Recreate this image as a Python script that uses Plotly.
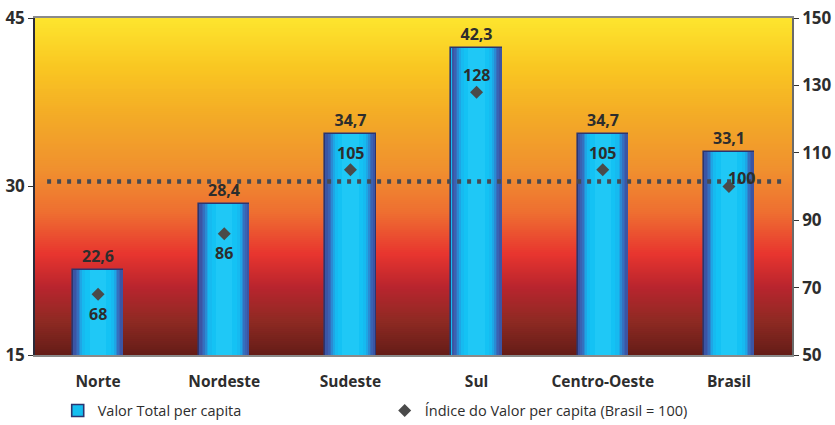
import plotly.graph_objects as go

# ---- data ----
regioes = ["Norte", "Nordeste", "Sudeste", "Sul", "Centro-Oeste", "Brasil"]
valor_per_capita = [22.6, 28.4, 34.7, 42.3, 34.7, 33.1]
indice = [68, 86, 105, 128, 105, 100]
linha_ref = 101.5
left_ticks = [15, 30, 45]
right_ticks = [50, 70, 90, 110, 130, 150]

TXT = "#2d2d2d"
FONT = "Open Sans"

fig = go.Figure()

# outer bar (legend entry) - cyan with navy outline
fig.add_trace(go.Bar(
    x=regioes, y=valor_per_capita, width=0.40,
    marker=dict(color="#14BEF0", line=dict(color="#2B3570", width=1.6)),
    name="Valor Total per capita", showlegend=True, hoverinfo="skip",
))

# gradient layers (edge -> center)
layers = [
    (0.397, "#3B55A4"),
    (0.355, "#3A62B2"),
    (0.33, "#3470BF"),
    (0.305, "#2A8BD3"),
    (0.28, "#1EA6E5"),
    (0.25, "#16BAF0"),
    (0.20, "#14C2F4"),
    (0.13, "#1FC8F6"),
]
for i, (w, c) in enumerate(layers):
    last = i == len(layers) - 1
    fig.add_trace(go.Bar(
        x=regioes, y=valor_per_capita, width=w,
        marker=dict(color=c, line=dict(width=0)),
        showlegend=False, hoverinfo="skip",
        text=[f"{v:.1f}".replace(".", ",") for v in valor_per_capita] if last else None,
        textposition="outside" if last else None,
        constraintext="none",
        textfont=dict(family=FONT, size=16, color=TXT, weight="bold"),
        cliponaxis=False,
    ))

# index markers
fig.add_trace(go.Scatter(
    x=regioes, y=indice, yaxis="y2", mode="markers",
    marker=dict(symbol="diamond", size=10, color="#4A4A4A"),
    name="Índice do Valor per capita (Brasil = 100)", cliponaxis=False,
))

# index labels (offsets relative to each diamond)
label_dx = [0, 0, 0, 0, 0, 13]
label_dy = [-20, -19, 17, 17, 17, 9]
annotations = []
for reg, v, dx, dy in zip(regioes, indice, label_dx, label_dy):
    annotations.append(dict(x=reg, y=v, xref="x", yref="y2", text=str(v), showarrow=False,
                            xshift=dx, yshift=dy,
                            font=dict(family=FONT, size=16, color=TXT, weight="bold")))

# background gradient via bands
stops = [
    (0.00, "#FDE52E"), (0.15, "#F9C622"), (0.30, "#F3A927"), (0.45, "#F0902F"),
    (0.58, "#EE6E31"), (0.70, "#E8352F"), (0.80, "#B8252E"), (0.90, "#8E2A23"),
    (1.00, "#641C17"),
]

def hex2rgb(h):
    h = h.lstrip("#")
    return [int(h[i:i + 2], 16) for i in (0, 2, 4)]

def interp(t):
    for (t0, c0), (t1, c1) in zip(stops[:-1], stops[1:]):
        if t0 <= t <= t1:
            f = (t - t0) / (t1 - t0) if t1 > t0 else 0
            a, b = hex2rgb(c0), hex2rgb(c1)
            return "rgb(%d,%d,%d)" % tuple(round(a[k] + (b[k] - a[k]) * f) for k in range(3))
    return stops[-1][1]

N = 170
shapes = []
for i in range(N):
    t = (i + 0.5) / N  # from top
    y1 = 1 - i / N
    y0 = max(0, 1 - (i + 1.6) / N)
    shapes.append(dict(type="rect", xref="paper", yref="paper", x0=0, x1=1, y0=y0, y1=y1,
                       fillcolor=interp(t), line=dict(width=0), layer="below"))

# dotted reference line
shapes.append(dict(type="line", xref="paper", yref="y2", x0=0.016, x1=0.992,
                   y0=linha_ref, y1=linha_ref, layer="above",
                   line=dict(color="#464A52", width=4.5, dash="4px,6px")))

fig.update_layout(
    width=835, height=425,
    margin=dict(l=35, r=43, t=18, b=70, autoexpand=False),
    paper_bgcolor="white", plot_bgcolor="rgba(0,0,0,0)",
    barmode="overlay", bargap=0,
    shapes=shapes, annotations=annotations,
    font=dict(family=FONT, color=TXT),
    xaxis=dict(range=[-0.5, 5.5], showgrid=False, ticks="", showline=True, mirror=True,
               linecolor="#8A8A8A", linewidth=1.5, automargin=False,
               tickfont=dict(family=FONT, size=15.5, color=TXT, weight="bold"),
               ticklabelstandoff=12),
    yaxis=dict(range=[15, 45], tickvals=left_ticks, showgrid=False, zeroline=False,
               showline=True, linecolor="#2a2a3a", linewidth=1.5, automargin=False,
               ticks="outside", ticklen=5, tickcolor="#333",
               tickfont=dict(family=FONT, size=17, color=TXT, weight="bold")),
    yaxis2=dict(range=[50, 150], tickvals=right_ticks, overlaying="y", side="right",
                showgrid=False, zeroline=False, showline=True, linecolor="#6a6a6a", linewidth=1.5,
                automargin=False,
                ticks="outside", ticklen=5, tickcolor="#333",
                tickfont=dict(family=FONT, size=17, color=TXT, weight="bold")),
    legend=dict(orientation="h", x=0.03, y=-0.165, xanchor="left", yanchor="middle",
                font=dict(family=FONT, size=14.5, color=TXT),
                entrywidth=282, entrywidthmode="pixels", bgcolor="rgba(0,0,0,0)"),
)

fig.write_html("out.html")
